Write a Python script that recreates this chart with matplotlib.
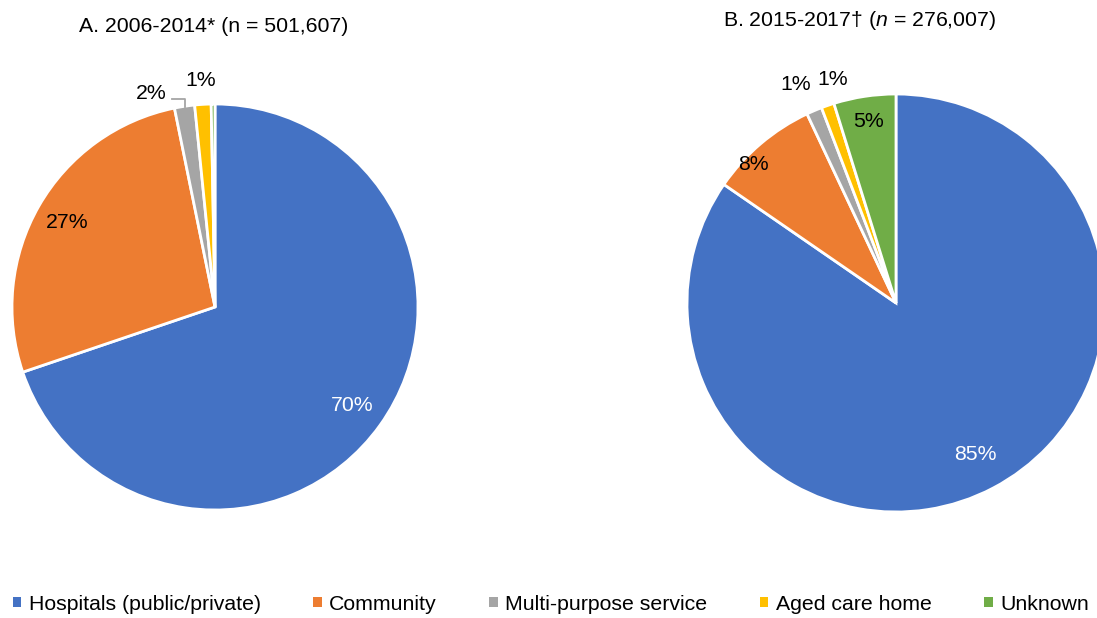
import numpy as np
import matplotlib
matplotlib.use("Agg")
import matplotlib.pyplot as plt
from matplotlib.patches import Patch

plt.rcParams['font.family'] = ['Liberation Sans', 'DejaVu Sans']
plt.rcParams['mathtext.fontset'] = 'custom'
plt.rcParams['mathtext.rm'] = 'Liberation Sans'
plt.rcParams['mathtext.it'] = 'Liberation Sans:italic'

# ---- data ----
categories = ["Hospitals (public/private)", "Community", "Multi-purpose service",
              "Aged care home", "Unknown"]
share_2006_2014 = [69.8, 27.0, 1.6, 1.3, 0.3]
share_2015_2017 = [84.6, 8.4, 1.2, 1.0, 4.8]
title_a = "A. 2006-2014* (n = 501,607)"
title_b = "B. 2015-2017\u2020 ($n$ = 276,007)"

colors = ["#4472C4", "#ED7D31", "#A5A5A5", "#FFC000", "#70AD47"]
label_colors = ["white", "black", "black", "black", "black"]

W, H = 1097, 618
fig = plt.figure(figsize=(W / 100, H / 100), dpi=100)

LIM = 1.3
FS = 15.3


def make_axes(cx, cy, r):
    half = LIM * r
    return fig.add_axes([(cx - half) / W, (H - cy - half) / H, 2 * half / W, 2 * half / H])


def draw_pie(ax, vals, label_style, leader=None):
    wedges, _ = ax.pie(vals, colors=colors, startangle=90, counterclock=False,
                       wedgeprops=dict(edgecolor="white", linewidth=2.0))
    ax.set_xlim(-LIM, LIM)
    ax.set_ylim(-LIM, LIM)
    ax.set_aspect("equal")
    for i, (w, v) in enumerate(zip(wedges, vals)):
        txt = f"{round(v):d}%"
        if round(v) < 1 or label_style[i] is None:
            continue
        dist, off = label_style[i]
        mid = np.deg2rad((w.theta1 + w.theta2) / 2 + off)
        ax.text(dist * np.cos(mid), dist * np.sin(mid), txt, ha="center", va="center",
                fontsize=FS, color=label_colors[i])
        if leader is not None and i == leader:
            m = np.deg2rad((w.theta1 + w.theta2) / 2)
            ex = np.cos(m)
            ey0 = np.sin(m) * 0.995
            ey1 = np.sin(m) * 1.035
            ax.plot([ex - 0.06, ex, ex], [ey1, ey1, ey0], color="#A5A5A5", lw=1.3,
                    clip_on=False)
    return wedges


# Pie A
axA = make_axes(215, 307, 203)
styleA = [(0.83, 0), (0.84, 0), (1.10, 8.0), (1.12, 0.3), None]
draw_pie(axA, share_2006_2014, styleA, leader=2)

# Pie B
axB = make_axes(896, 303, 209)
styleB = [(0.82, 0), (0.95, 5.5), (1.15, 1.6), (1.11, -3.3), (0.88, 0)]
draw_pie(axB, share_2015_2017, styleB)

fig.text(214 / W, 1 - 26 / H, title_a, ha="center", va="center", fontsize=FS)
fig.text(860 / W, 1 - 20 / H, title_b, ha="center", va="center", fontsize=FS)

handles = [Patch(facecolor=c, edgecolor="none") for c in colors]
fig.legend(handles, categories, loc="center", bbox_to_anchor=(0.502, 1 - 604 / H),
           ncol=5, frameon=False, fontsize=FS, handlelength=0.4, handleheight=0.4,
           handletextpad=0.35, columnspacing=2.47, borderaxespad=0)

fig.savefig("out.png", dpi=100)
